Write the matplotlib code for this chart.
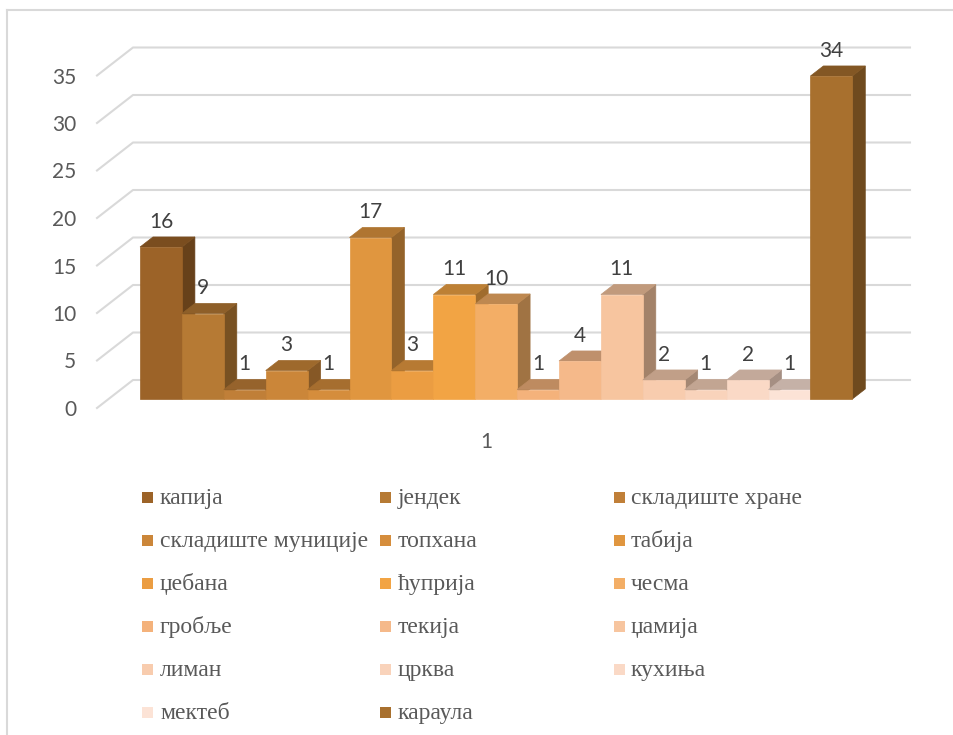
import matplotlib
matplotlib.use('Agg')
import matplotlib.pyplot as plt
from matplotlib.patches import Polygon, Rectangle
from matplotlib.lines import Line2D
import numpy as np

# ---------------- data ----------------
categories = ['капија', 'јендек', 'складиште хране', 'складиште муниције', 'топхана',
              'табија', 'џебана', 'ћуприја', 'чесма', 'гробље', 'текија', 'џамија',
              'лиман', 'црква', 'кухиња', 'мектеб', 'караула']
values = [16, 9, 1, 3, 1, 17, 3, 11, 10, 1, 4, 11, 2, 1, 2, 1, 34]
colors = ['#9C6328', '#B67A34', '#C07F38', '#CB8639', '#D58D3C', '#E0963F',
          '#EB9D42', '#F2A444', '#F3AE66', '#F4B27B', '#F5B98A', '#F7C59F',
          '#F8CCAE', '#F9D3BB', '#FAD9C6', '#FCE3D6', '#A8702E']
y_ticks = [0, 5, 10, 15, 20, 25, 30, 35]
x_label = '1'

# ---------------- layout ----------------
W, H, DPI = 954, 735, 100
fig = plt.figure(figsize=(W / DPI, H / DPI), dpi=DPI)

PX_X = 41.9   # pixels per category unit
PX_Y = 9.5    # pixels per value unit
L_PX, R_PX, T_PX, B_PX = 97, 930, 8, 408
ax = fig.add_axes([L_PX / W, 1 - B_PX / H, (R_PX - L_PX) / W, (B_PX - T_PX) / H])
XA = -0.752
ax.set_xlim(XA, XA + (R_PX - L_PX) / PX_X)
ax.set_ylim(0, (B_PX - T_PX) / PX_Y)
for s in ax.spines.values():
    s.set_visible(False)

# depth vector (floor front -> back wall), in data units
DX, DY = 36 / PX_X, 28 / PX_Y
Z0, Z1 = 0.32, 0.68
XB = XA + (910 - L_PX) / PX_X - DX


def P(x, y, z):
    return (x + z * DX, y + z * DY)


grid_c = '#D9D9D9'
for v in y_ticks:
    ax.add_line(Line2D([XA, XA + DX, XB + DX], [v, v + DY, v + DY],
                       color=grid_c, lw=1.5, zorder=1, clip_on=False))


def shade(c, f):
    r, g, b = matplotlib.colors.to_rgb(c)
    return (r * f, g * f, b * f)


for i, (v, c) in enumerate(zip(values, colors)):
    x0, x1 = i, i + 1
    zb = 2 + i * 0.01
    side = Polygon([P(x1, 0, Z0), P(x1, v, Z0), P(x1, v, Z1), P(x1, 0, Z1)],
                   closed=True, facecolor=shade(c, 0.66), edgecolor=shade(c, 0.66),
                   lw=0.5, zorder=zb)
    top = Polygon([P(x0, v, Z0), P(x1, v, Z0), P(x1, v, Z1), P(x0, v, Z1)],
                  closed=True, facecolor=shade(c, 0.78), edgecolor=shade(c, 0.78),
                  lw=0.5, zorder=zb + 0.001)
    ax.add_patch(side)
    ax.add_patch(top)
    ax.bar(i + 0.5 + Z0 * DX, v, width=1, bottom=Z0 * DY, color=c,
           edgecolor=c, linewidth=0.5, zorder=zb + 0.002)
    ax.annotate(str(v), xy=(i + 0.5 + Z0 * DX, v + Z1 * DY), xytext=(0, 15),
                textcoords='offset pixels', ha='center', va='center',
                fontsize=15, color='#404040', family=['Lato', 'DejaVu Sans'],
                zorder=10)

ax.set_yticks(y_ticks)
ax.set_yticklabels([str(t) for t in y_ticks], family=['Lato', 'DejaVu Sans'])
ax.set_xticks([XA + (486 - L_PX) / PX_X])
ax.set_xticklabels([x_label], family=['Lato', 'DejaVu Sans'])
ax.tick_params(axis='y', length=0, pad=15, labelsize=15, labelcolor='#595959')
ax.tick_params(axis='x', length=0, pad=17, labelsize=15, labelcolor='#595959')

# ---------------- legend (3 equal-width columns, row-major) ----------------
col_x = [148, 386, 619]
row_y0, row_dy = 497, 43
for k, (name, c) in enumerate(zip(categories, colors)):
    r, col = divmod(k, 3)
    cx, cy = col_x[col], row_y0 + r * row_dy
    fig.add_artist(Rectangle(((cx - 5.5) / W, 1 - (cy + 5.5) / H), 11 / W, 11 / H,
                             transform=fig.transFigure, facecolor=c, edgecolor='none'))
    fig.text((cx + 12) / W, 1 - (cy + 7) / H, name, ha='left', va='baseline',
             fontsize=17, color='#595959', family=['Liberation Serif', 'DejaVu Serif'])

# chart border (top and left visible)
fig.add_artist(Line2D([7.5 / W, 7.5 / W], [1 - 10 / H, 0], transform=fig.transFigure,
                      color=grid_c, lw=1.5))
fig.add_artist(Line2D([7.5 / W, 1], [1 - 10 / H, 1 - 10 / H], transform=fig.transFigure,
                      color=grid_c, lw=1.5))

fig.savefig('out.png', dpi=DPI, facecolor='white')
